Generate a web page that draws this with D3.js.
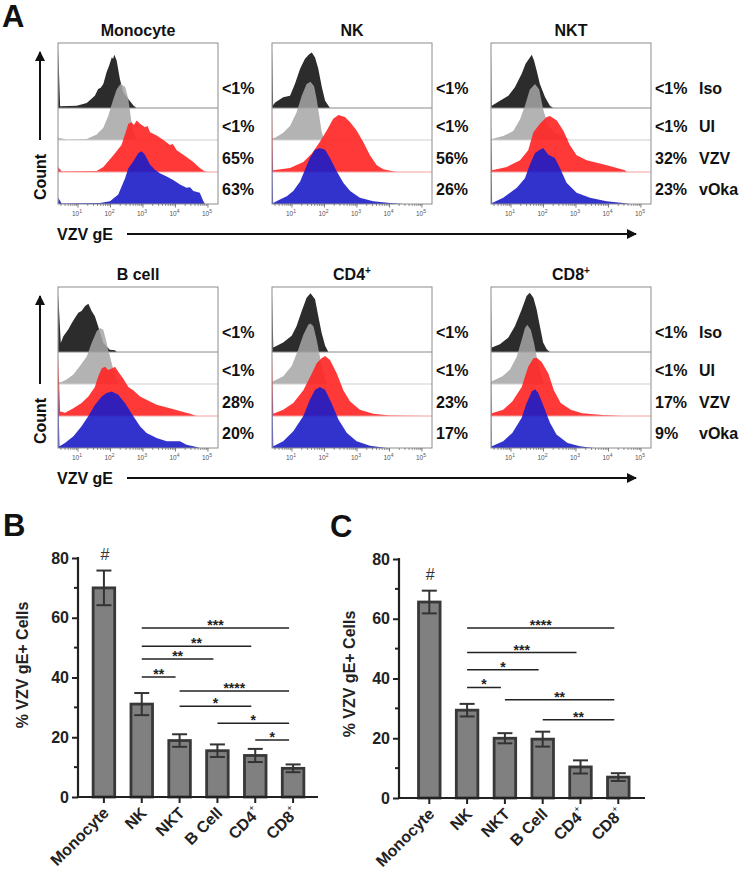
<!DOCTYPE html>
<html><head><meta charset="utf-8">
<script src="https://cdn.jsdelivr.net/npm/d3@7"></script>
<style>
body{margin:0;background:#fff}
text{font-family:"Liberation Sans",Arial,Helvetica,sans-serif}
</style>
</head><body>
<svg id="c" width="741" height="874"></svg>
<script>
// ---------------- Panel A data ----------------
const cellTypes = ["Monocyte","NK","NKT","B cell","CD4","CD8"];
const cellSup   = ["","","","","+","+"];
const conditions = ["Iso","UI","VZV","vOka"];
const isoPct  = ["<1%","<1%","<1%","<1%","<1%","<1%"];
const uiPct   = ["<1%","<1%","<1%","<1%","<1%","<1%"];
const vzvPct  = ["65%","56%","32%","28%","23%","17%"];
const vokaPct = ["63%","26%","23%","20%","17%","9%"];
const decadeTicks = [1,2,3,4,5];

// histogram curves: [log10 fluorescence, height (% of mode)]
const monocyteIso = [[0.39,108],[0.45,3],[0.96,4],[1.27,9],[1.52,22],[1.62,34],[1.70,36],[1.78,43],[1.88,64],[1.96,76],[2.04,90],[2.08,88],[2.12,95],[2.19,85],[2.29,52],[2.39,28],[2.55,16],[2.70,5],[2.80,0]];
const monocyteUI  = [[0.39,4],[0.65,1],[1.27,2],[1.575,10],[1.78,22],[1.93,43],[2.09,73],[2.19,90],[2.31,100],[2.45,95],[2.55,73],[2.62,43],[2.70,13],[2.80,0]];
const monocyteVZV = [[0.39,9],[0.50,1],[1.575,2],[1.78,9],[2.09,30],[2.34,48],[2.50,77],[2.55,86],[2.65,89],[2.72,84],[2.81,92],[2.91,86],[3.06,80],[3.14,82],[3.22,71],[3.42,65],[3.63,57],[3.83,48],[3.92,50],[4.04,39],[4.34,27],[4.55,18],[4.75,7],[4.91,1],[5.01,0]];
const monocyteVOka= [[0.39,11],[0.50,1],[1.68,2],[1.985,5],[2.24,17],[2.45,46],[2.55,64],[2.70,76],[2.86,91],[2.96,94],[3.06,88],[3.22,70],[3.37,61],[3.52,55],[3.73,49],[3.93,43],[4.14,35],[4.34,29],[4.45,30],[4.55,23],[4.75,20],[4.86,5],[4.91,0]];

const nkIso  = [[0.39,108],[0.42,5],[0.48,10],[0.73,19],[0.94,22],[1.09,43],[1.25,70],[1.40,88],[1.53,96],[1.61,99],[1.71,90],[1.81,70],[1.92,37],[2.02,13],[2.17,0]];
const nkUI   = [[0.39,3],[0.48,4],[0.73,13],[0.94,25],[1.14,49],[1.30,79],[1.45,100],[1.57,104],[1.68,96],[1.76,73],[1.84,43],[1.91,16],[1.985,0]];
const nkVZV  = [[0.39,113],[0.42,3],[0.94,7],[1.35,18],[1.61,33],[1.86,54],[2.07,74],[2.27,95],[2.43,102],[2.63,98],[2.79,89],[2.99,74],[3.19,54],[3.40,30],[3.61,12],[3.81,5],[4.22,0]];
const nkVOka = [[0.39,106],[0.42,2],[0.63,8],[0.84,14],[1.04,23],[1.25,40],[1.40,61],[1.55,82],[1.71,97],[1.86,100],[2.02,97],[2.17,82],[2.38,58],[2.58,38],[2.79,23],[3.09,11],[3.50,5],[4.02,2],[4.42,0]];

const nktIso  = [[0.39,100],[0.41,4],[0.66,13],[0.92,22],[1.12,37],[1.33,61],[1.45,79],[1.64,95],[1.71,85],[1.79,67],[1.89,43],[2.05,19],[2.20,4],[2.30,0]];
const nktUI   = [[0.39,2],[0.41,2],[0.76,7],[1.07,16],[1.28,37],[1.43,61],[1.58,90],[1.74,100],[1.87,90],[1.99,55],[2.15,25],[2.35,13],[2.61,7],[2.81,0]];
const nktVZV  = [[0.39,110],[0.42,3],[0.87,9],[1.28,21],[1.53,39],[1.69,71],[1.89,86],[2.10,98],[2.20,100],[2.41,92],[2.61,74],[2.81,48],[3.02,30],[3.33,21],[3.74,15],[4.15,9],[4.51,3],[4.56,0]];
const nktVOka = [[0.39,105],[0.42,2],[0.76,11],[1.18,29],[1.43,46],[1.58,70],[1.74,91],[1.89,97],[1.99,100],[2.15,88],[2.35,82],[2.51,64],[2.71,38],[3.02,20],[3.43,11],[3.94,5],[4.45,2],[4.66,0]];

const bIso  = [[0.39,105],[0.47,16],[0.55,28],[0.70,40],[0.81,52],[0.91,61],[1.01,70],[1.11,73],[1.22,82],[1.32,86],[1.42,73],[1.52,64],[1.62,46],[1.78,16],[1.98,4],[2.14,3],[2.19,0]];
const bUI   = [[0.39,3],[0.47,3],[0.65,8],[0.86,17],[1.06,32],[1.27,49],[1.42,73],[1.575,94],[1.68,100],[1.78,97],[1.86,79],[1.93,61],[2.04,37],[2.14,14],[2.24,0]];
const bVZV  = [[0.39,110],[0.45,8],[0.60,6],[0.86,14],[1.11,23],[1.32,35],[1.52,52],[1.62,70],[1.73,85],[1.83,88],[1.93,82],[2.04,85],[2.14,88],[2.24,79],[2.39,67],[2.55,52],[2.70,46],[2.91,35],[3.11,29],[3.42,20],[3.83,14],[4.19,8],[4.45,4],[4.65,0]];
const bVOka = [[0.39,110],[0.43,3],[0.60,9],[0.86,21],[1.11,39],[1.32,57],[1.52,77],[1.73,92],[1.88,98],[2.04,101],[2.24,95],[2.45,80],[2.70,57],[2.91,39],[3.11,27],[3.42,18],[3.73,12],[4.14,12],[4.34,6],[4.65,2],[4.75,0]];

const cd4Iso  = [[0.39,103],[0.425,8],[0.73,17],[0.99,29],[1.14,46],[1.30,73],[1.45,97],[1.57,105],[1.71,94],[1.81,64],[1.91,35],[2.02,11],[2.12,0]];
const cd4UI   = [[0.39,3],[0.425,5],[0.73,14],[0.99,32],[1.19,61],[1.35,88],[1.50,106],[1.57,108],[1.66,103],[1.76,79],[1.86,49],[1.96,20],[2.07,0]];
const cd4VZV  = [[0.39,112],[0.425,4],[0.73,11],[1.04,23],[1.35,46],[1.61,76],[1.76,94],[1.91,103],[2.02,107],[2.17,100],[2.38,76],[2.58,46],[2.79,26],[3.09,11],[3.50,4],[4.02,1],[5.07,0]];
const cd4VOka = [[0.39,113],[0.425,3],[0.73,12],[1.04,30],[1.35,57],[1.55,86],[1.71,104],[1.86,109],[2.02,104],[2.22,80],[2.43,51],[2.69,27],[2.99,12],[3.40,4],[3.91,0]];

const cd8Iso  = [[0.39,100],[0.41,8],[0.66,14],[0.92,26],[1.12,46],[1.33,76],[1.48,100],[1.58,106],[1.69,97],[1.79,76],[1.89,46],[1.99,17],[2.10,5],[2.20,0]];
const cd8UI   = [[0.39,3],[0.41,5],[0.74,14],[0.97,26],[1.18,49],[1.33,79],[1.43,100],[1.50,106],[1.61,97],[1.71,73],[1.81,43],[1.91,20],[2.02,0]];
const cd8VZV  = [[0.39,110],[0.41,5],[0.76,11],[1.04,26],[1.33,52],[1.53,88],[1.69,103],[1.79,104],[1.94,97],[2.15,76],[2.32,46],[2.53,23],[2.84,11],[3.19,5],[3.81,2],[4.42,0]];
const cd8VOka = [[0.39,108],[0.41,3],[0.76,12],[1.04,27],[1.33,54],[1.48,80],[1.64,101],[1.74,105],[1.84,98],[1.99,77],[2.20,45],[2.40,24],[2.74,9],[3.12,3],[3.55,0]];

const panelHists = [
  [monocyteIso, monocyteUI, monocyteVZV, monocyteVOka],
  [nkIso, nkUI, nkVZV, nkVOka],
  [nktIso, nktUI, nktVZV, nktVOka],
  [bIso, bUI, bVZV, bVOka],
  [cd4Iso, cd4UI, cd4VZV, cd4VOka],
  [cd8Iso, cd8UI, cd8VZV, cd8VOka]
];
const panelPcts = cellTypes.map((_, i) => [isoPct[i], uiPct[i], vzvPct[i], vokaPct[i]]);

// ---------------- Panels B / C data ----------------
const barCats = ["Monocyte","NK","NKT","B Cell","CD4","CD8"];
const barSup  = ["","","","","+","+"];
const meanB = [70.0, 31.1, 18.9, 15.5, 13.9, 9.6];
const semB  = [5.8, 3.7, 2.1, 2.1, 2.2, 1.3];
const hashB = ["#","","","","",""];
const sigFromB  = [1,1,1,1,2,2,3,4];
const sigToB    = [5,4,3,2,5,4,5,5];
const sigLabelB = ["***","**","**","**","****","*","*","*"];
const sigLevelB = [56.6,50.5,46.2,40.2,35.5,30.4,24.7,19.1];

const meanC = [65.6, 29.4, 20.0, 19.7, 10.4, 7.0];
const semC  = [3.8, 2.1, 1.7, 2.5, 2.2, 1.3];
const hashC = ["#","","","","",""];
const sigFromC  = [1,1,1,1,2,3];
const sigToC    = [5,4,3,2,5,5];
const sigLabelC = ["****","***","*","*","**","**"];
const sigLevelC = [56.9,48.7,42.9,37.0,32.9,26.2];
const yTicks = [0,20,40,60,80];
const yMinor = [10,30,50,70];

// ---------------- drawing ----------------
const svg = d3.select("#c");
svg.append("rect").attr("width",741).attr("height",874).attr("fill","#fff");
const defs = svg.append("defs");
const ink = "#111";

// Panel letters
[["A",2,27],["B",3,536],["C",330,537]].forEach(([t,x,y]) =>
  svg.append("text").attr("x",x).attr("y",y).attr("font-size",31).attr("font-weight","bold").attr("fill",ink).text(t));

// Histogram panels
const boxW = 160, boxH = 161;
const boxLefts = [58, 272, 491];
const boxTops = [43, 287];
const rowBase = [65, 97, 129, 161];
const pctOffsets = [45, 82.5, 114.5, 146];
const hPx = 56;
const condColors = ["#2c2c2c","#a6a6a6","#ff2222","#1c1cc8"];
const condOpacity = [1, 0.85, 0.9, 0.9];
const baseColors = ["#8a8a8a","#cfcfcf","#f5a0a0", null];
const logDomain = [0.385, 5.31];

panelHists.forEach((hists, i) => {
  const col = i % 3, row = Math.floor(i / 3);
  const left = boxLefts[col], top = boxTops[row];
  const x = d3.scaleLinear().domain(logDomain).range([left, left + boxW]);
  const clipId = "clip" + i;
  defs.append("clipPath").attr("id", clipId).append("rect")
    .attr("x", left).attr("y", top).attr("width", boxW).attr("height", boxH);
  const g = svg.append("g").attr("clip-path", `url(#${clipId})`);
  hists.forEach((h, c) => {
    const base = top + rowBase[c];
    const y = d3.scaleLinear().domain([0, 100]).range([base, base - hPx]);
    const area = d3.area().x(d => x(d[0])).y0(base).y1(d => y(d[1])).curve(d3.curveLinear);
    g.append("path").datum(h).attr("d", area)
      .attr("fill", condColors[c]).attr("fill-opacity", condOpacity[c]);
    if (baseColors[c]) {
      g.append("line").attr("x1", left).attr("x2", left + boxW).attr("y1", base).attr("y2", base)
        .attr("stroke", baseColors[c]).attr("stroke-width", 1);
    }
  });
  // box
  svg.append("rect").attr("x", left).attr("y", top).attr("width", boxW).attr("height", boxH)
    .attr("fill", "none").attr("stroke", "#8c8c8c").attr("stroke-width", 1);
  // bottom ticks (log, major + minor)
  const bottom = top + boxH;
  const minor = [];
  for (let k = 0; k <= 4; k++) for (let m = 2; m <= 9; m++) {
    const v = k + Math.log10(m);
    if (v > logDomain[0] && v < logDomain[1]) minor.push(v);
  }
  svg.append("g").selectAll("line.mi").data(minor).join("line")
    .attr("x1", d => x(d)).attr("x2", d => x(d)).attr("y1", bottom).attr("y2", bottom + 2)
    .attr("stroke", "#666").attr("stroke-width", 0.7);
  svg.append("g").selectAll("line.ma").data(decadeTicks).join("line")
    .attr("x1", d => x(d)).attr("x2", d => x(d)).attr("y1", bottom).attr("y2", bottom + 3.5)
    .attr("stroke", "#555").attr("stroke-width", 0.8);
  const tl = svg.append("g").selectAll("text").data(decadeTicks).join("text")
    .attr("x", d => x(d) - 1).attr("y", bottom + 12).attr("font-size", 6.5)
    .attr("text-anchor", "middle").attr("fill", "#555");
  tl.append("tspan").text("10");
  tl.append("tspan").attr("dy", -3).attr("font-size", 5).text(d => d);
  // title
  const t = svg.append("text").attr("x", left + boxW / 2).attr("y", top - 7)
    .attr("text-anchor", "middle").attr("font-size", 16).attr("font-weight", "bold").attr("fill", ink);
  t.append("tspan").text(cellTypes[i]);
  if (cellSup[i]) t.append("tspan").attr("dy", -6).attr("font-size", 10).text(cellSup[i]);
  // percentages
  panelPcts[i].forEach((p, c) => {
    svg.append("text").attr("x", left + boxW + 4).attr("y", top + pctOffsets[c] + 6)
      .attr("font-size", 16).attr("font-weight", "bold").attr("fill", ink).text(p);
    if (col === 2) {
      svg.append("text").attr("x", 699).attr("y", top + pctOffsets[c] + 6)
        .attr("font-size", 16).attr("font-weight", "bold").attr("fill", ink).text(conditions[c]);
    }
  });
});

// Count arrows and VZV gE arrows
defs.append("marker").attr("id","ah").attr("viewBox","0 0 10 10").attr("refX",9).attr("refY",5)
  .attr("markerWidth",5).attr("markerHeight",5).attr("orient","auto-start-reverse")
  .append("path").attr("d","M0,0L10,5L0,10z").attr("fill",ink);
boxTops.forEach(top => {
  const off = top - 43;
  svg.append("line").attr("x1", 40).attr("x2", 40).attr("y1", 140 + off).attr("y2", 52 + off)
    .attr("stroke", ink).attr("stroke-width", 2).attr("marker-end", "url(#ah)");
  svg.append("text").attr("transform", `translate(45.5,${177 + off}) rotate(-90)`)
    .attr("text-anchor", "middle").attr("font-size", 16).attr("font-weight", "bold").attr("fill", ink).text("Count");
  svg.append("text").attr("x", 57).attr("y", 240 + off)
    .attr("font-size", 16).attr("font-weight", "bold").attr("fill", ink).text("VZV gE");
  svg.append("line").attr("x1", 127).attr("x2", 636).attr("y1", 234 + off).attr("y2", 234 + off)
    .attr("stroke", ink).attr("stroke-width", 2).attr("marker-end", "url(#ah)");
});

// Bar panels
function barPanel(o, means, sems, hashes, sFrom, sTo, sLab, sLev) {
  const g = svg.append("g");
  const x = d3.scaleBand().domain(barCats).range([o.bandStart, o.bandEnd]).paddingInner(0.43).paddingOuter(0.215);
  const y = d3.scaleLinear().domain([0, 80]).range([o.yBottom, o.yTop]);
  const cx = i => x(barCats[i]) + x.bandwidth() / 2;
  // bars
  g.selectAll("rect.bar").data(means).join("rect")
    .attr("x", (d, i) => x(barCats[i])).attr("width", x.bandwidth())
    .attr("y", d => y(d)).attr("height", d => y(0) - y(d))
    .attr("fill", "#808080").attr("stroke", "#383838").attr("stroke-width", 2.8);
  // error bars
  means.forEach((m, i) => {
    const c = cx(i);
    g.append("line").attr("x1", c).attr("x2", c).attr("y1", y(m - sems[i])).attr("y2", y(m + sems[i]))
      .attr("stroke", "#333").attr("stroke-width", 2);
    [m - sems[i], m + sems[i]].forEach(v =>
      g.append("line").attr("x1", c - 7.5).attr("x2", c + 7.5).attr("y1", y(v)).attr("y2", y(v))
        .attr("stroke", "#333").attr("stroke-width", 2));
    if (hashes[i]) g.append("text").attr("x", c + 1).attr("y", y(m + sems[i]) - 11)
      .attr("text-anchor", "middle").attr("font-size", 16).attr("fill", "#333").text(hashes[i]);
  });
  // y axis
  const ya = g.append("g").attr("transform", `translate(${o.axisX},0)`)
    .call(d3.axisLeft(y).tickValues(yTicks).tickSize(6).tickPadding(3));
  ya.select(".domain").remove();
  ya.selectAll(".tick line").attr("stroke", "#222").attr("stroke-width", 2);
  ya.selectAll(".tick text").attr("font-size", 16).attr("font-weight", "bold").attr("fill", "#222")
    .attr("font-family", '"Liberation Sans",Arial,sans-serif');
  g.selectAll("line.ymin").data(yMinor).join("line")
    .attr("x1", o.axisX - 4).attr("x2", o.axisX).attr("y1", d => y(d)).attr("y2", d => y(d))
    .attr("stroke", "#222").attr("stroke-width", 2);
  g.append("line").attr("x1", o.axisX).attr("x2", o.axisX).attr("y1", y(0) + 1).attr("y2", y(80) - 1)
    .attr("stroke", "#222").attr("stroke-width", 2.2);
  // x axis
  g.append("line").attr("x1", o.axisX - 1).attr("x2", o.axisEnd).attr("y1", y(0)).attr("y2", y(0))
    .attr("stroke", "#222").attr("stroke-width", 2.2);
  barCats.forEach((c, i) => {
    g.append("line").attr("x1", cx(i)).attr("x2", cx(i)).attr("y1", y(0)).attr("y2", y(0) + 6)
      .attr("stroke", "#222").attr("stroke-width", 2);
    const t = g.append("text").attr("transform", `translate(${cx(i) + 6},${y(0) + 17}) rotate(-45)`)
      .attr("text-anchor", "end").attr("font-size", 16).attr("font-weight", "bold").attr("fill", "#222");
    t.append("tspan").text(c);
    if (barSup[i]) t.append("tspan").attr("dy", -8).attr("font-size", 9).attr("font-weight", "normal").text(barSup[i]);
  });
  // y title
  g.append("text").attr("transform", `translate(${o.titleX},${o.titleY}) rotate(-90)`)
    .attr("text-anchor", "middle").attr("font-size", 16).attr("font-weight", "bold").attr("fill", "#222")
    .text("% VZV gE+ Cells");
  // significance
  sFrom.forEach((f, k) => {
    const x1 = cx(f), x2 = cx(sTo[k]) - 4, yy = y(sLev[k]);
    g.append("line").attr("x1", x1).attr("x2", x2).attr("y1", yy).attr("y2", yy)
      .attr("stroke", "#222").attr("stroke-width", 1.5);
    g.append("text").attr("x", (x1 + x2) / 2).attr("y", yy + 2).attr("text-anchor", "middle")
      .attr("font-size", 14).attr("font-weight", "bold").attr("fill", "#222").text(sLab[k]);
  });
}

barPanel({bandStart: 85, bandEnd: 312, yBottom: 797, yTop: 558, axisX: 78, axisEnd: 318, titleX: 28, titleY: 665},
  meanB, semB, hashB, sigFromB, sigToB, sigLabelB, sigLevelB);
barPanel({bandStart: 410.4, bandEnd: 637.2, yBottom: 798, yTop: 559, axisX: 399, axisEnd: 645, titleX: 355, titleY: 674},
  meanC, semC, hashC, sigFromC, sigToC, sigLabelC, sigLevelC);
</script>
</body></html>
